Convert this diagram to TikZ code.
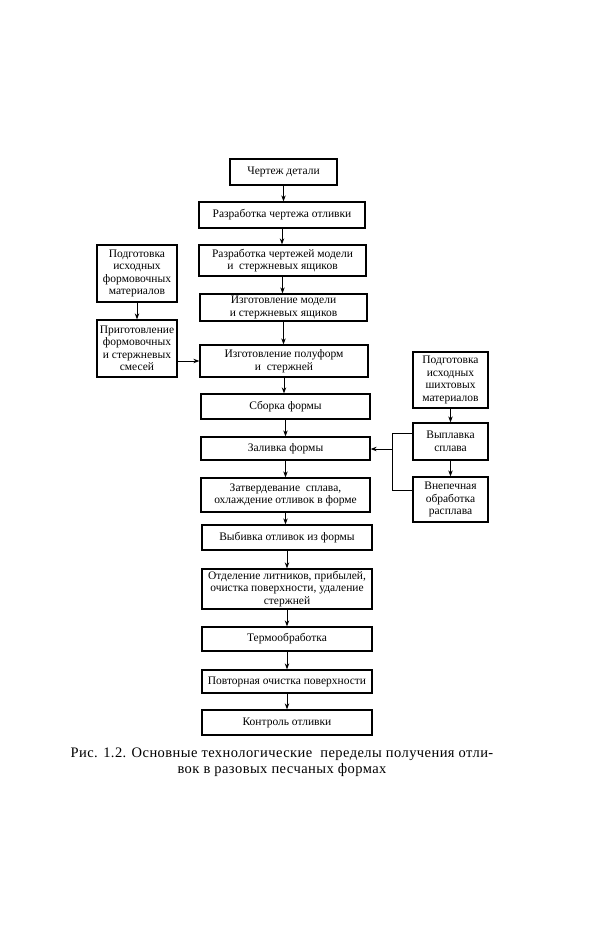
\documentclass[tikz,border=0pt]{standalone}
\usepackage{fontspec}
\setmainfont{Liberation Serif}
\usetikzlibrary{arrows.meta}
\begin{document}
\begin{tikzpicture}[x=1pt,y=-1pt,
  box/.style={draw, line width=1.3pt, inner sep=1pt, align=center, font=\fontsize{11.5}{12.5}\selectfont},
  arr/.style={line width=0.9pt, -{Stealth[length=6pt,width=4.5pt]}},
  con/.style={line width=0.9pt}]
\useasboundingbox (0,0) rectangle (600,940);
% main column
\node[box, minimum width=107pt, minimum height=26pt] (m1) at (283.5,172) {Чертеж детали};
\node[box, minimum width=166pt, minimum height=26pt] (m2) at (282,215) {Разработка чертежа отливки};
\node[box, minimum width=167pt, minimum height=31pt] (m3) at (282.5,260.5) {Разработка чертежей модели\\и\ \ стержневых ящиков};
\node[box, minimum width=167pt, minimum height=27pt] (m4) at (283.5,307.5) {Изготовление модели\\и стержневых ящиков};
\node[box, minimum width=168pt, minimum height=32pt] (m5) at (284,361) {Изготовление полуформ\\и\ \ стержней};
\node[box, minimum width=169pt, minimum height=25pt] (m6) at (285.5,406.5) {Сборка формы};
\node[box, minimum width=169pt, minimum height=23pt] (m7) at (285.5,448.5) {Заливка формы};
\node[box, minimum width=169pt, minimum height=34pt] (m8) at (285.5,495) {Затвердевание\ \ сплава,\\охлаждение отливок в форме};
\node[box, minimum width=170pt, minimum height=25pt] (m9) at (287,537.5) {Выбивка отливок из формы};
\node[box, minimum width=170pt, minimum height=40pt] (m10) at (287,589) {Отделение литников, прибылей,\\очистка поверхности,\ удаление\\стержней};
\node[box, minimum width=170pt, minimum height=24pt] (m11) at (287,639) {Термообработка};
\node[box, minimum width=170pt, minimum height=23pt] (m12) at (287,681.5) {Повторная очистка поверхности};
\node[box, minimum width=170pt, minimum height=25pt] (m13) at (287,722.5) {Контроль отливки};
% left column
\node[box, minimum width=80pt, minimum height=57pt] (l1) at (137,273.5) {Подготовка\\исходных\\формовочных\\материалов};
\node[box, minimum width=80pt, minimum height=57pt] (l2) at (137,348.5) {Приготовление\\формовочных\\и стержневых\\смесей};
% right column
\node[box, minimum width=75pt, minimum height=56pt] (r1) at (450.5,380) {Подготовка\\исходных\\шихтовых\\материалов};
\node[box, minimum width=75pt, minimum height=37pt] (r2) at (450.5,441.5) {Выплавка\\сплава};
\node[box, minimum width=75pt, minimum height=45pt] (r3) at (450.5,499.5) {Внепечная\\обработка\\расплава};
% main arrows
\foreach \a/\b in {m1/m2,m2/m3,m3/m4,m4/m5,m5/m6,m6/m7,m7/m8,m8/m9,m9/m10,m10/m11,m11/m12,m12/m13}
  \draw[arr] (\a.south) -- (\a.south |- \b.north);
\draw[arr] (l1.south) -- (l2.north);
\draw[arr] (l2.east |- m5.west) -- (m5.west);
\draw[arr] (r1.south) -- (r2.north);
\draw[arr] (r2.south) -- (r3.north);
\coordinate (j1) at (392,433);
\coordinate (j2) at (392,490);
\coordinate (j3) at (392,449);
\draw[con] (r2.west |- j1) -- (j1) -- (j2) -- (r3.west |- j2);
\draw[arr] (j3) -- (m7.east |- j3);
% caption
\node[font=\fontsize{14.5}{16}\selectfont\addfontfeature{LetterSpace=3}, align=center, inner sep=0pt] (cap) at (282,762)
  {Рис. 1.2. Основные технологические\ \ переделы получения отли-\\вок в разовых песчаных формах};
\end{tikzpicture}
\end{document}
